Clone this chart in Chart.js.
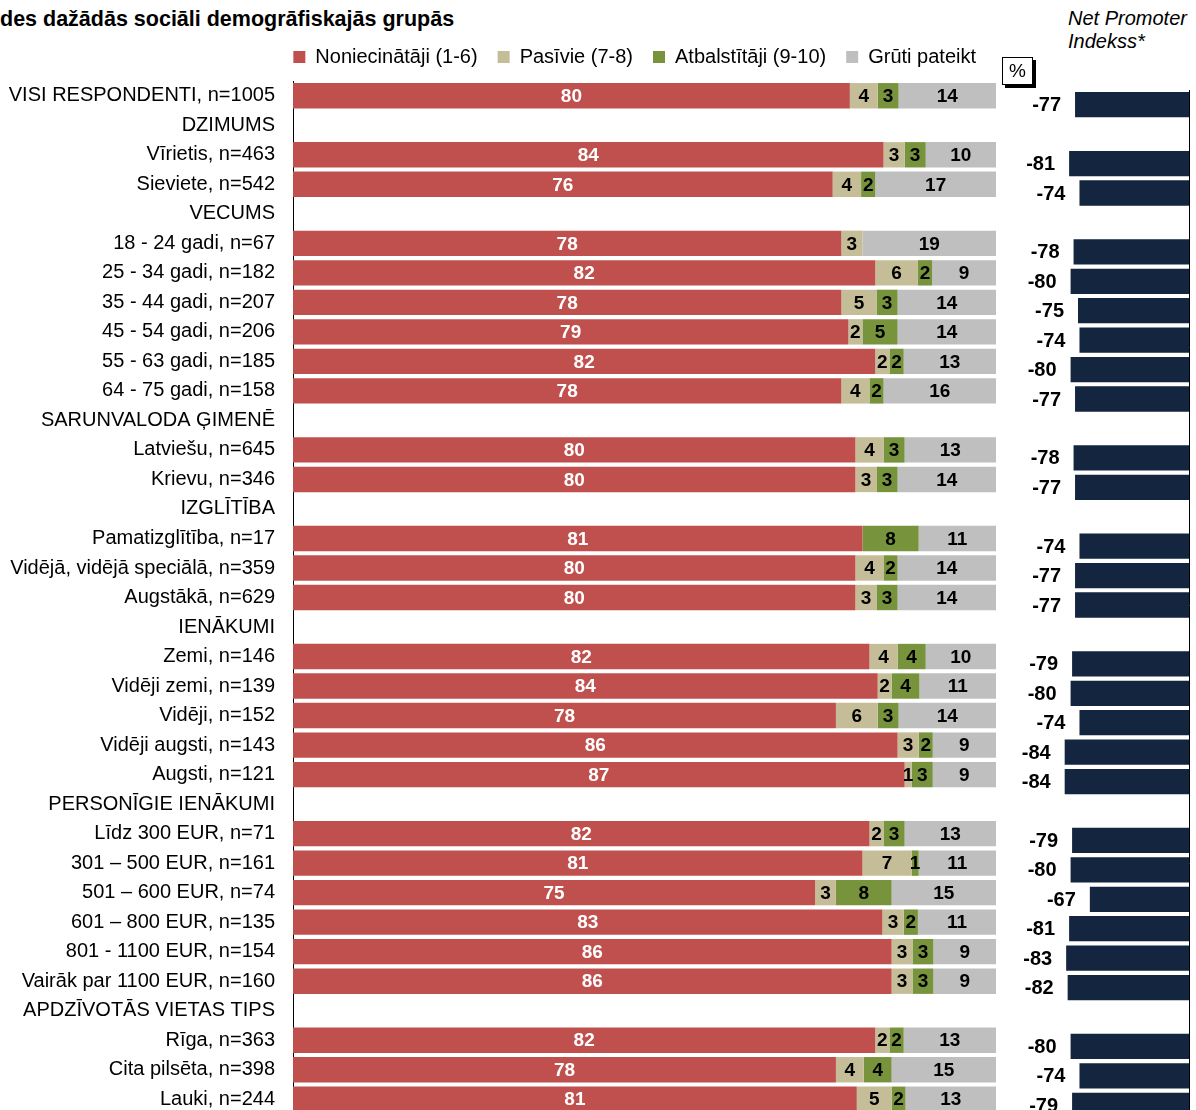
<!DOCTYPE html>
<html>
<head>
<meta charset="utf-8">
<script src="https://cdn.jsdelivr.net/npm/chart.js@4.4.1/dist/chart.umd.min.js"></script>
<style>
  html, body { margin: 0; padding: 0; background: #fff; overflow: hidden; }
  #wrap { position: relative; width: 1196px; height: 1110px; overflow: hidden; font-family: Arial, "Liberation Sans", sans-serif; color: #000; }
  #mainChart { position: absolute; left: 0; top: 0; }
  #npsChart { position: absolute; left: 1000px; top: 0; }
  .title { position: absolute; left: 0; top: 6px; font-weight: bold; font-size: 21.5px; line-height: 26px; white-space: nowrap; }
  .nps-title { position: absolute; left: 1068px; top: 7px; font-style: italic; font-size: 20px; line-height: 23px; white-space: nowrap; }
  .pct { position: absolute; left: 1002px; top: 57px; width: 29px; height: 26px; border: 1px solid #000; background: #fff;
         box-shadow: 3px 3px 0 #000; font-size: 19px; line-height: 26px; text-align: center; }
</style>
</head>
<body>
<div id="wrap">
  <div class="title">des dažādās sociāli demogrāfiskajās grupās</div>
  <div class="nps-title">Net Promoter<br>Indekss*</div>
  <canvas id="mainChart" width="1000" height="1126"></canvas>
  <canvas id="npsChart" width="196" height="1126"></canvas>
  <div class="pct">%</div>
</div>
<script>
// rows (group headings have no bars)
const categories = [
  'VISI RESPONDENTI, n=1005',
  'DZIMUMS',
  'Vīrietis, n=463',
  'Sieviete, n=542',
  'VECUMS',
  '18 - 24 gadi, n=67',
  '25 - 34 gadi, n=182',
  '35 - 44 gadi, n=207',
  '45 - 54 gadi, n=206',
  '55 - 63 gadi, n=185',
  '64 - 75 gadi, n=158',
  'SARUNVALODA ĢIMENĒ',
  'Latviešu, n=645',
  'Krievu, n=346',
  'IZGLĪTĪBA',
  'Pamatizglītība, n=17',
  'Vidējā, vidējā speciālā, n=359',
  'Augstākā, n=629',
  'IENĀKUMI',
  'Zemi, n=146',
  'Vidēji zemi, n=139',
  'Vidēji, n=152',
  'Vidēji augsti, n=143',
  'Augsti, n=121',
  'PERSONĪGIE IENĀKUMI',
  'Līdz 300 EUR, n=71',
  '301 – 500 EUR, n=161',
  '501 – 600 EUR, n=74',
  '601 – 800 EUR, n=135',
  '801 - 1100 EUR, n=154',
  'Vairāk par 1100 EUR, n=160',
  'APDZĪVOTĀS VIETAS TIPS',
  'Rīga, n=363',
  'Cita pilsēta, n=398',
  'Lauki, n=244'
];

const noniecinataji = [80, null, 84, 76, null, 78, 82, 78, 79, 82, 78, null, 80, 80, null, 81, 80, 80, null, 82, 84, 78, 86, 87, null, 82, 81, 75, 83, 86, 86, null, 82, 78, 81];
const pasivie       = [4, null, 3, 4, null, 3, 6, 5, 2, 2, 4, null, 4, 3, null, 0, 4, 3, null, 4, 2, 6, 3, 1, null, 2, 7, 3, 3, 3, 3, null, 2, 4, 5];
const atbalstitaji  = [3, null, 3, 2, null, 0, 2, 3, 5, 2, 2, null, 3, 3, null, 8, 2, 3, null, 4, 4, 3, 2, 3, null, 3, 1, 8, 2, 3, 3, null, 2, 4, 2];
const grutiPateikt  = [14, null, 10, 17, null, 19, 9, 14, 14, 13, 16, null, 13, 14, null, 11, 14, 14, null, 10, 11, 14, 9, 9, null, 13, 11, 15, 11, 9, 9, null, 13, 15, 13];
const npsValues     = [-77, null, -81, -74, null, -78, -80, -75, -74, -80, -77, null, -78, -77, null, -74, -77, -77, null, -79, -80, -74, -84, -84, null, -79, -80, -67, -81, -83, -82, null, -80, -74, -79];

const seriesNames = ['Noniecinātāji (1-6)', 'Pasīvie (7-8)', 'Atbalstītāji (9-10)', 'Grūti pateikt'];
const seriesValues = [noniecinataji, pasivie, atbalstitaji, grutiPateikt];
const colors = ['#C0504D', '#C4BD97', '#77933C', '#BFBFBF'];
const labelColors = ['#fff', '#000', '#000', '#000'];

// every row is drawn as 100 % (rounded figures don't always add up)
const rowTotals = categories.map((c, i) =>
  seriesValues.reduce((s, arr) => s + (arr[i] || 0), 0));
const share = (arr) => arr.map((v, i) => v === null ? null : v / rowTotals[i] * 100);

const FONT = 'Arial, "Liberation Sans", sans-serif';

const barLabels = {
  id: 'barLabels',
  afterDatasetsDraw(chart) {
    const ctx = chart.ctx;
    ctx.save();
    ctx.textBaseline = 'middle';
    chart.data.datasets.forEach((ds, i) => {
      const meta = chart.getDatasetMeta(i);
      meta.data.forEach((bar, j) => {
        const v = ds.rawValues[j];
        if (!v) return;
        if (ds.npsLabels) {
          ctx.font = 'bold 20px ' + FONT;
          ctx.textAlign = 'right';
          ctx.fillStyle = '#000';
          ctx.fillText(v, bar.x - 14, bar.y + 1);
        } else {
          const c = bar.getCenterPoint();
          ctx.font = 'bold 19px ' + FONT;
          ctx.textAlign = 'center';
          ctx.fillStyle = ds.labelColor;
          ctx.fillText(v, c.x, c.y + 1);
        }
      });
    });
    ctx.restore();
  }
};

// nudge the legend a little upwards, closer to the title
const legendShift = {
  id: 'legendShift',
  afterLayout(chart) {
    if (chart.legend) {
      chart.legend.top -= 4;
      chart.legend.bottom -= 4;
    }
  }
};

new Chart(document.getElementById('mainChart'), {
  type: 'bar',
  data: {
    labels: categories,
    datasets: seriesValues.map((arr, i) => ({
      label: seriesNames[i],
      data: share(arr),
      rawValues: arr,
      backgroundColor: colors[i],
      labelColor: labelColors[i],
      barPercentage: 0.86,
      categoryPercentage: 1
    }))
  },
  options: {
    indexAxis: 'y',
    responsive: false,
    animation: false,
    layout: { autoPadding: false, padding: { top: 31, right: 4, bottom: 12, left: 0 } },
    scales: {
      x: { stacked: true, min: 0, max: 100, display: false },
      y: {
        stacked: true,
        grid: { display: false, drawTicks: false },
        border: { display: true, color: '#000', width: 1 },
        ticks: { autoSkip: false, padding: 18, color: '#000', font: { family: FONT, size: 20 } },
        afterFit: (scale) => {
          scale.width = 293;
          scale.paddingTop = 0;
          scale.paddingBottom = 0;
        }
      }
    },
    plugins: {
      legend: {
        position: 'top',
        align: 'end',
        labels: { boxWidth: 12, boxHeight: 12, padding: 20, color: '#000', font: { family: FONT, size: 20 } }
      },
      tooltip: { enabled: false }
    }
  },
  plugins: [barLabels, legendShift]
});

new Chart(document.getElementById('npsChart'), {
  type: 'bar',
  data: {
    labels: categories,
    datasets: [{
      label: 'Net Promoter Indekss*',
      data: npsValues,
      rawValues: npsValues,
      npsLabels: true,
      backgroundColor: '#13253F',
      barPercentage: 0.86,
      categoryPercentage: 1
    }]
  },
  options: {
    indexAxis: 'y',
    responsive: false,
    animation: false,
    layout: { autoPadding: false, padding: { top: 90, right: 7, bottom: 6, left: 41 } },
    scales: {
      x: { min: -100, max: 0, display: false },
      y: {
        position: 'right',
        grid: { display: false, drawTicks: false },
        border: { display: true, color: '#000', width: 1 },
        ticks: { display: false },
        afterFit: (scale) => { scale.width = 0; }
      }
    },
    plugins: {
      legend: { display: false },
      tooltip: { enabled: false }
    }
  },
  plugins: [barLabels]
});
</script>
</body>
</html>
